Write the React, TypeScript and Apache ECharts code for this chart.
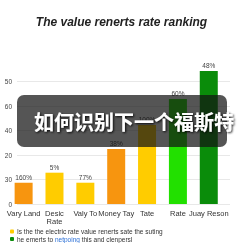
import React, { useEffect, useRef } from "react";
import * as echarts from "echarts";

const categories = ["Vary Land", "Desic\nRate", "Valy To", "Money Tay", "Tate", "Rate", "Juay Reson"];
const values = [8.7, 12.8, 8.7, 22.5, 32.3, 42.9, 54.4];
const valueLabels = ["160%", "5%", "77%", "38%", "100%", "60%", "48%"];
const barColors = ["#f7950f", "#ffcc00", "#ffcc00", "#f7950f", "#ffcc00", "#22e000", "#0a8c0a"];
const tickLabels = ["0", "30", "20", "40", "60", "50"];
const legendNames = [
  "Is the the electric rate value renerts sate the suting",
  "he emerts to netpoing this and clenpersl",
];
const legendColors = ["#ffcc00", "#0a8c0a"];
const overlayText = "如何识别下一个福斯特";

export default function App() {
  const ref = useRef<HTMLDivElement>(null);
  useEffect(() => {
    if (!ref.current) return;
    const chart = echarts.init(ref.current, null, { renderer: "svg" });
    const font = "Liberation Sans, Arial, sans-serif";
    chart.setOption({
      animation: false,
      textStyle: { fontFamily: font },
      title: {
        text: "The value renerts rate ranking",
        left: "center",
        top: 11,
        textStyle: { fontSize: 12, fontWeight: "bold", fontStyle: "italic", color: "#222", fontFamily: font },
      },
      legend: {
        orient: "vertical",
        left: 10,
        top: 228,
        height: 15,
        itemWidth: 4,
        itemHeight: 4,
        itemGap: 0.5,
        padding: 0,
        data: legendNames.map((n, i) => ({ name: n, itemStyle: { color: legendColors[i] } })),
        formatter: (name: string) =>
          name === legendNames[1] ? "he emerts to {a|netpoing} this and clenpersl" : name,
        textStyle: {
          fontSize: 6.5,
          lineHeight: 7,
          color: "#333",
          padding: [0, 0, 0, -2],
          rich: { a: { fontSize: 6.5, lineHeight: 7, color: "#2a6fd6" } },
        },
      },
      grid: [
        { left: 17, right: 13, top: 81.7, bottom: 39 },
        { left: 8.2, right: 18.8, top: 81.7, bottom: 39 },
      ],
      xAxis: [
        { gridIndex: 0, type: "value", show: false },
        {
          gridIndex: 1,
          type: "category",
          data: categories,
          axisLine: { show: false },
          axisTick: { show: false },
          axisLabel: { interval: 0, fontSize: 7.5, color: "#333", margin: 5, lineHeight: 8 },
        },
      ],
      yAxis: [
        {
          gridIndex: 0,
          type: "value",
          min: 0,
          max: 50,
          interval: 10,
          axisLine: { show: false },
          axisTick: { show: false },
          splitLine: { lineStyle: { color: "#e8e8e8" } },
          axisLabel: {
            fontSize: 6.5,
            color: "#444",
            margin: 5,
            formatter: (v: number) => tickLabels[Math.round(v / 10)] ?? "",
          },
        },
        { gridIndex: 1, type: "value", min: 0, max: 50, interval: 10, show: false },
      ],
      series: [
        {
          name: legendNames[0],
          type: "bar",
          xAxisIndex: 1,
          yAxisIndex: 1,
          barWidth: 18,
          barGap: "-100%",
          clip: false,
          itemStyle: { color: legendColors[0] },
          data: values.map((v, i) => ({ value: v, itemStyle: { color: barColors[i] } })),
          label: {
            show: true,
            position: "top",
            distance: 2,
            fontSize: 6.5,
            color: "#444",
            formatter: (p: any) => valueLabels[p.dataIndex],
          },
        },
        {
          name: legendNames[1],
          type: "bar",
          xAxisIndex: 1,
          yAxisIndex: 1,
          barWidth: 18,
          barGap: "-100%",
          itemStyle: { color: legendColors[1] },
          data: values.map(() => null),
        },
      ],
      graphic: [
        {
          type: "rect",
          left: 17,
          top: 95,
          shape: { width: 210, height: 52, r: 7 },
          style: { fill: "rgba(20,20,20,0.72)" },
          z: 100,
        },
        {
          type: "text",
          left: 34,
          top: 111,
          style: {
            text: overlayText,
            fill: "#fff",
            font: "bold 20px 'Noto Sans CJK SC', sans-serif",
            textShadowColor: "rgba(0,0,0,0.9)",
            textShadowBlur: 2,
            textShadowOffsetX: 1,
            textShadowOffsetY: 1,
          },
          z: 101,
        },
      ],
    });
    return () => chart.dispose();
  }, []);
  return <div ref={ref} style={{ width: 243, height: 243, position: "fixed", left: 0, top: 0 }} />;
}
